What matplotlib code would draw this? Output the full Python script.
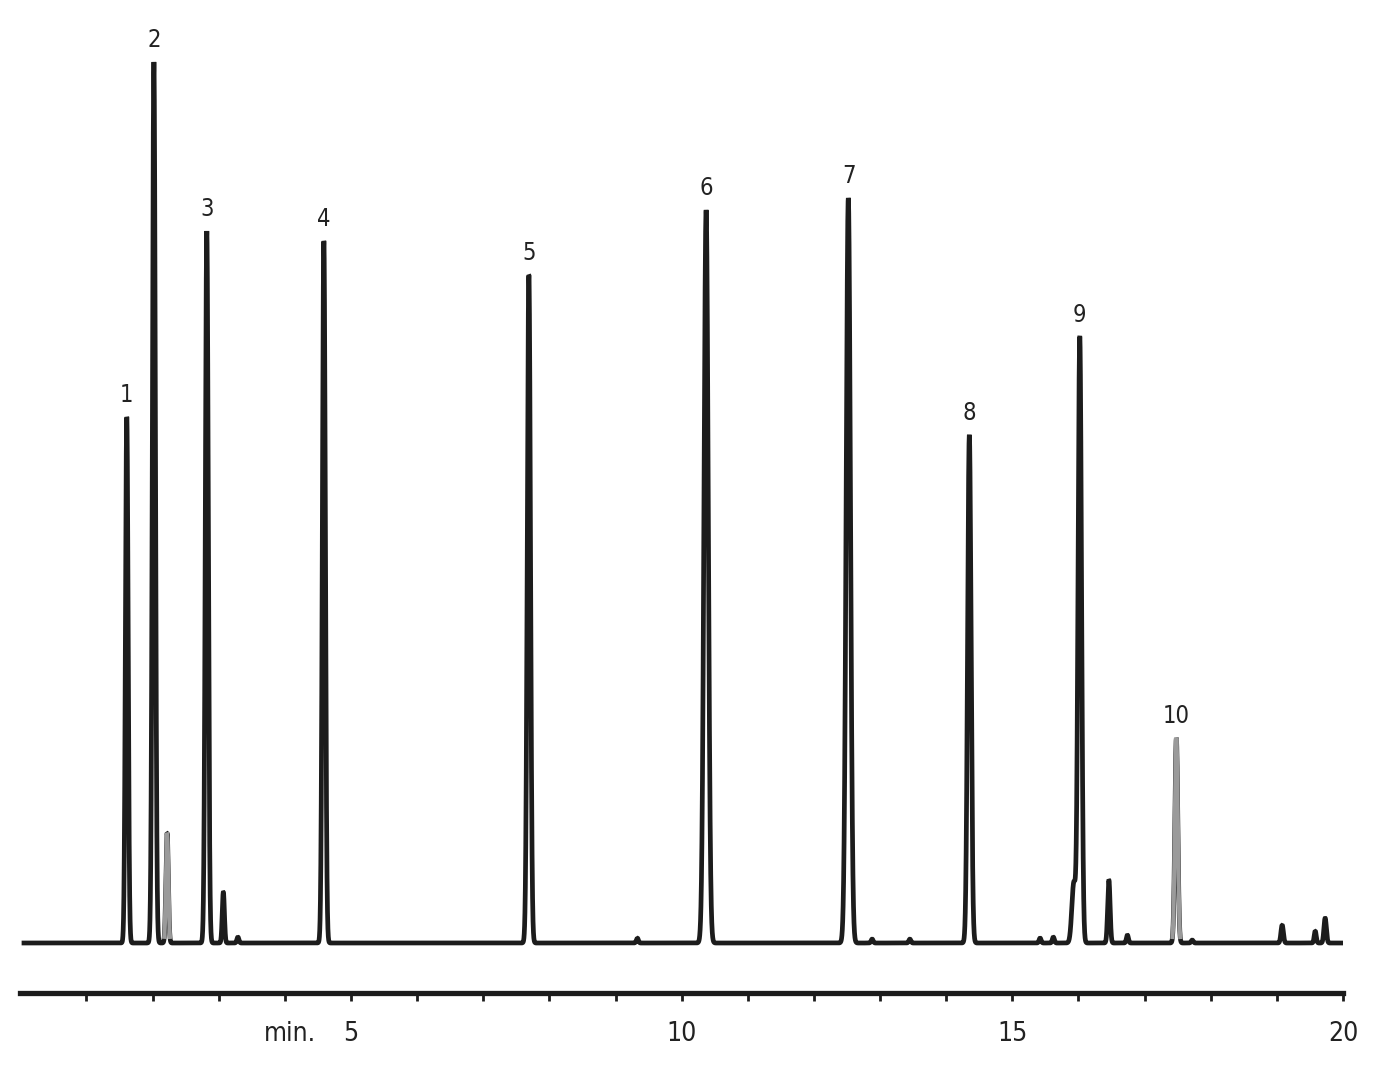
import numpy as np
import matplotlib
matplotlib.use("Agg")
import matplotlib.pyplot as plt
from matplotlib.transforms import blended_transform_factory
from matplotlib import font_manager

# ---- data (retention time in min, height in detector units, width sigma in min)
peak_times   = [1.61, 2.02, 2.22, 2.82, 3.07, 3.29, 4.59, 7.69, 9.33, 10.37,
                12.52, 12.88, 13.45, 14.35, 15.42, 15.62, 15.93, 16.02,
                16.46, 16.74, 17.48, 17.72, 19.08, 19.58, 19.73]
peak_heights = [526, 881, 110, 712, 51, 6, 702, 668, 5, 733,
                745, 4, 4, 508, 5, 6, 60, 606,
                63, 8, 205, 3, 18, 12, 25]
peak_sigmas  = [0.02, 0.022, 0.018, 0.022, 0.016, 0.015, 0.022, 0.024, 0.015, 0.032,
                0.032, 0.015, 0.015, 0.026, 0.015, 0.015, 0.03, 0.026,
                0.018, 0.015, 0.022, 0.015, 0.018, 0.015, 0.018]
gray_peaks   = [2, 20]   # indices of peaks drawn in grey

label_texts  = ["1", "2", "3", "4", "5", "6", "7", "8", "9", "10"]
label_times  = [1.61, 2.02, 2.82, 4.59, 7.69, 10.38, 12.53, 14.35, 16.02, 17.48]
label_heights = [526, 881, 712, 702, 668, 733, 745, 508, 606, 205]

tick_positions = list(range(1, 21))
tick_labels = ["" if v % 5 else str(v) for v in tick_positions]

# ---- build trace
t = np.linspace(0.02, 20.0, 40001)
y = np.zeros_like(t)
for tp, h, s in zip(peak_times, peak_heights, peak_sigmas):
    y += h * np.exp(-0.5 * ((t - tp) / s) ** 2)

names = {f.name for f in font_manager.fontManager.ttflist}
fam = ['Liberation Sans Narrow'] if 'Liberation Sans Narrow' in names else []
plt.rcParams['font.family'] = fam + ['DejaVu Sans']
stretch = 'condensed'

fig = plt.figure(figsize=(13.84, 10.71), dpi=100)
W, H = 1384, 1071
x0, x1 = 20.3, 1343.0
ytop, yspine = 15, 993
ax = fig.add_axes([x0 / W, (H - yspine) / H, (x1 - x0) / W, (yspine - ytop) / H])
ax.set_xlim(0, 20)
ax.set_ylim(-50, yspine - 50 - ytop)

ax.plot(t, y, color="#1c1c1c", lw=3.4, solid_joinstyle="bevel",
        solid_capstyle="butt", zorder=3)
for i in gray_peaks:
    tp, h, s = peak_times[i], peak_heights[i], peak_sigmas[i]
    m = (np.abs(t - tp) < 4 * s)
    yy = np.where(m & (y > 6), y, np.nan)
    ax.plot(t, yy, color="#9a9a9a", lw=3.0, solid_joinstyle="bevel", zorder=4)

for txt, tp, h in zip(label_texts, label_times, label_heights):
    ax.text(tp, h + 10, txt, ha="center", va="bottom", fontsize=17,
            color="#222222", fontstretch=stretch)

for s in ["top", "right", "left"]:
    ax.spines[s].set_visible(False)
ax.spines["bottom"].set_linewidth(3.8)
ax.spines["bottom"].set_color("#1c1c1c")
ax.set_yticks([])
ax.set_xticks(tick_positions)
ax.set_xticklabels(tick_labels, fontsize=19, color="#222222", fontstretch=stretch)
ax.tick_params(axis="x", direction="out", length=6, width=2, color="#1c1c1c", pad=14)

trans = blended_transform_factory(ax.transData, ax.transAxes)
ax.text(4.08, -0.042, "min.", transform=trans, ha="center", va="center",
        fontsize=19, color="#222222", fontstretch=stretch)

fig.savefig("out.png", dpi=100, facecolor="white")
